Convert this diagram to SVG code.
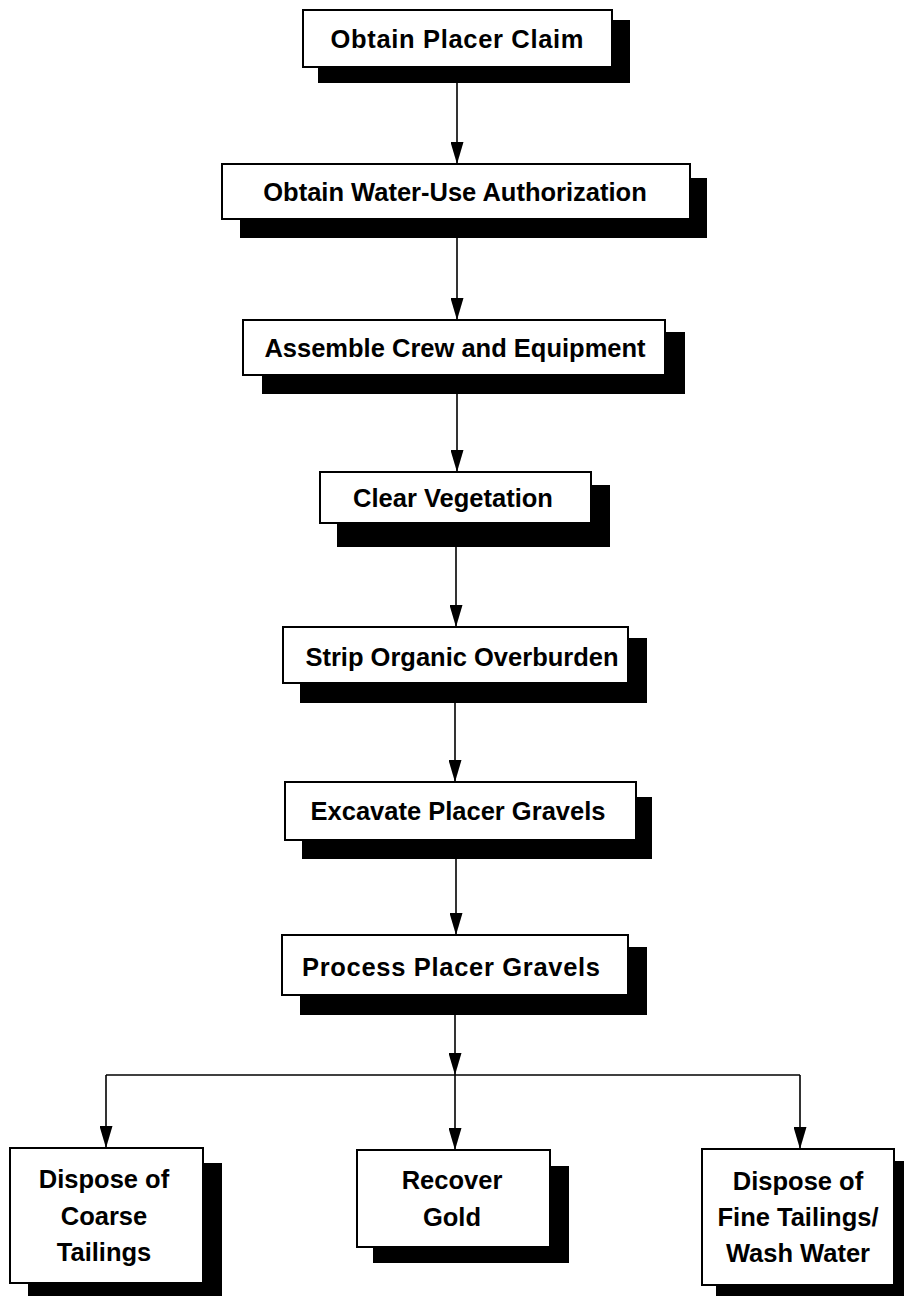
<svg xmlns="http://www.w3.org/2000/svg" width="904" height="1296" viewBox="0 0 904 1296">
<style>
.sh{fill:#000}
.bx{fill:#fff;stroke:#000;stroke-width:2}
.t{font-family:"Liberation Sans",Arial,Helvetica,sans-serif;font-weight:bold;font-size:25.5px;fill:#000;text-anchor:middle}
.c{fill:none;stroke:#000;stroke-width:1.6}
</style>
<defs>
<marker id="ah" markerUnits="userSpaceOnUse" markerWidth="22" markerHeight="13" viewBox="0 0 22 13" refX="22" refY="6.5" orient="auto">
<path d="M0,0 L22,6.5 L0,13 Z" fill="#000"/>
</marker>
</defs>
<rect width="904" height="1296" fill="#fff"/>
<g id="connectors">
<line class="c" x1="457" y1="83" x2="457" y2="164" marker-end="url(#ah)"/>
<line class="c" x1="457" y1="238" x2="457" y2="320" marker-end="url(#ah)"/>
<line class="c" x1="457" y1="394" x2="457" y2="472" marker-end="url(#ah)"/>
<line class="c" x1="456" y1="547" x2="456" y2="627" marker-end="url(#ah)"/>
<line class="c" x1="455" y1="703" x2="455" y2="782" marker-end="url(#ah)"/>
<line class="c" x1="456" y1="859" x2="456" y2="935" marker-end="url(#ah)"/>
<line class="c" x1="455" y1="1015" x2="455" y2="1075" marker-end="url(#ah)"/>
<line class="c" x1="106" y1="1075" x2="800" y2="1075"/>
<line class="c" x1="106" y1="1075" x2="106" y2="1148" marker-end="url(#ah)"/>
<line class="c" x1="455" y1="1075" x2="455" y2="1150" marker-end="url(#ah)"/>
<line class="c" x1="800" y1="1075" x2="800" y2="1149" marker-end="url(#ah)"/>
</g>
<g id="n1">
<rect class="sh" x="318" y="20" width="312" height="63"/>
<rect class="bx" x="303" y="10" width="309" height="57"/>
<text class="t" x="457" y="48" textLength="253" lengthAdjust="spacing">Obtain Placer Claim</text>
</g>
<g id="n2">
<rect class="sh" x="240" y="178" width="467" height="60"/>
<rect class="bx" x="222" y="164" width="468" height="55"/>
<text class="t" x="455" y="201">Obtain Water-Use Authorization</text>
</g>
<g id="n3">
<rect class="sh" x="262" y="332" width="423" height="62"/>
<rect class="bx" x="243" y="320" width="422" height="55"/>
<text class="t" x="455" y="357">Assemble Crew and Equipment</text>
</g>
<g id="n4">
<rect class="sh" x="337" y="485" width="273" height="62"/>
<rect class="bx" x="320" y="472" width="271" height="51"/>
<text class="t" x="453" y="507">Clear Vegetation</text>
</g>
<g id="n5">
<rect class="sh" x="300" y="638" width="347" height="65"/>
<rect class="bx" x="283" y="627" width="345" height="56"/>
<text class="t" x="462" y="666">Strip Organic Overburden</text>
</g>
<g id="n6">
<rect class="sh" x="302" y="797" width="350" height="62"/>
<rect class="bx" x="285" y="782" width="351" height="58"/>
<text class="t" x="458" y="820">Excavate Placer Gravels</text>
</g>
<g id="n7">
<rect class="sh" x="300" y="947" width="347" height="68"/>
<rect class="bx" x="282" y="935" width="346" height="60"/>
<text class="t" x="451" y="976" textLength="298" lengthAdjust="spacing">Process Placer Gravels</text>
</g>
<g id="n8">
<rect class="sh" x="28" y="1163" width="194" height="133"/>
<rect class="bx" x="10" y="1148" width="193" height="135"/>
<text class="t" x="104" y="1188">Dispose of</text>
<text class="t" x="104" y="1225">Coarse</text>
<text class="t" x="104" y="1261">Tailings</text>
</g>
<g id="n9">
<rect class="sh" x="373" y="1166" width="196" height="97"/>
<rect class="bx" x="357" y="1150" width="193" height="97"/>
<text class="t" x="452" y="1189">Recover</text>
<text class="t" x="452" y="1226">Gold</text>
</g>
<g id="n10">
<rect class="sh" x="716" y="1161" width="196" height="135"/>
<rect class="bx" x="702" y="1149" width="192" height="136"/>
<text class="t" x="798" y="1190">Dispose of</text>
<text class="t" x="798" y="1226">Fine Tailings/</text>
<text class="t" x="798" y="1262">Wash Water</text>
</g>
</svg>
